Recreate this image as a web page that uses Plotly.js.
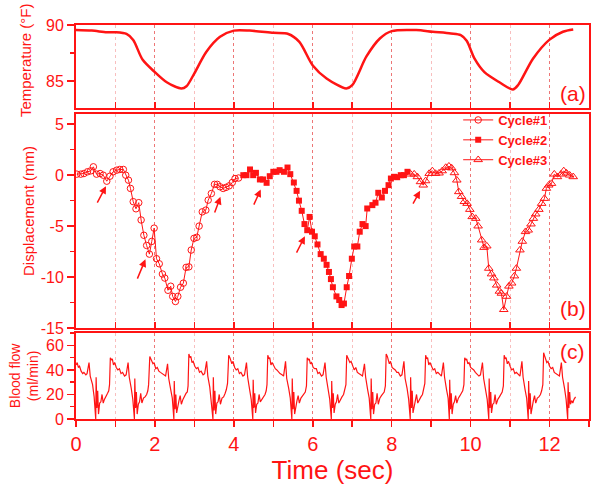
<!DOCTYPE html>
<html>
<head>
<meta charset="utf-8">
<script src="https://cdn.plot.ly/plotly-3.0.1.min.js"></script>
<style>html,body{margin:0;padding:0;background:#fff;}#chart{width:600px;height:488px;}</style>
</head>
<body>
<div id="chart"></div>
<script>
// ---------- DATA ----------
// (a) Temperature (°F) vs time (sec)
const tempTime = [0, 0.4, 0.78, 1.0, 1.28, 1.45, 1.69, 2.0, 2.3, 2.67, 2.8, 3.0, 3.3, 3.65, 4.0, 4.4, 5.0, 5.38, 5.66, 6.0, 6.35, 6.85, 7.0, 7.36, 7.7, 8.0, 8.62, 9.04, 9.5, 9.75, 9.9, 10.1, 10.35, 10.73, 11.07, 11.2, 11.58, 12.0, 12.34, 12.6];
const tempVal  = [89.55, 89.5, 89.35, 89.35, 89.2, 88.66, 86.9, 85.8, 84.9, 84.35, 84.55, 85.7, 87.6, 88.95, 89.5, 89.5, 89.3, 89.2, 88.5, 86.4, 85.24, 84.35, 84.64, 87.2, 88.8, 89.46, 89.55, 89.4, 89.25, 89.1, 88.6, 87.0, 85.8, 84.9, 84.26, 84.64, 87.0, 88.7, 89.4, 89.6];

// (b) Displacement (mm)
const cyc1Time = [0.02, 0.12, 0.2, 0.29, 0.37, 0.44, 0.52, 0.61, 0.69, 0.78, 0.86, 0.94, 1.03, 1.11, 1.2, 1.26, 1.33, 1.38, 1.45, 1.52, 1.59, 1.65, 1.72, 1.79, 1.86, 1.92, 1.98, 2.04, 2.11, 2.19, 2.25, 2.33, 2.4, 2.45, 2.52, 2.58, 2.65, 2.72, 2.79, 2.86, 2.92, 2.99, 3.06, 3.12, 3.2, 3.29, 3.35, 3.43, 3.51, 3.58, 3.65, 3.73, 3.8, 3.88, 3.96, 4.03, 4.12];
const cyc1Val  = [0.1, 0.1, 0.16, 0.33, 0.42, 0.82, 0.1, 0.16, 0, -0.59, -0.1, 0.33, 0.49, 0.56, 0.56, 0, -0.49, -1.3, -2.6, -3.3, -2.7, -4.4, -5.9, -6.9, -7.75, -6.5, -5.2, -8.2, -8.7, -9.7, -10.1, -11.3, -10.9, -11.9, -12.4, -11.9, -11.0, -10.6, -9.05, -9.0, -7.35, -6.2, -6.1, -5.0, -3.6, -3.43, -2.45, -1.8, -0.9, -0.9, -1.14, -1.3, -1.2, -1.05, -0.72, -0.33, -0.28];
const cyc2Time = [4.24, 4.32, 4.41, 4.49, 4.56, 4.66, 4.74, 4.83, 4.91, 5.0, 5.08, 5.16, 5.27, 5.36, 5.43, 5.52, 5.59, 5.65, 5.72, 5.79, 5.86, 5.92, 5.98, 6.05, 6.12, 6.2, 6.28, 6.35, 6.41, 6.46, 6.51, 6.6, 6.67, 6.73, 6.79, 6.86, 6.92, 6.99, 7.05, 7.13, 7.19, 7.26, 7.34, 7.38, 7.51, 7.59, 7.66, 7.75, 7.83, 7.92, 7.98, 8.06, 8.14, 8.23, 8.31, 8.4];
const cyc2Val  = [0, 0, 0.56, 0, 0.23, -0.42, -0.42, -0.75, -0.1, 0.33, 0.33, 0.49, 0.33, 0.75, 0.1, -0.72, -1.54, -2.5, -3.5, -4.8, -5.4, -4.1, -5.55, -6.0, -6.8, -7.75, -8.2, -8.8, -9.5, -10.2, -11.0, -11.9, -12.25, -12.75, -12.6, -11.0, -9.9, -8.2, -7.0, -7.0, -5.55, -4.8, -5.0, -3.27, -2.94, -2.7, -1.73, -2.19, -1.54, -0.98, -0.33, -0.16, -0.2, 0, 0, 0.33];
const cyc3Time = [8.48, 8.57, 8.65, 8.73, 8.8, 8.86, 8.95, 9.03, 9.11, 9.2, 9.28, 9.37, 9.45, 9.52, 9.59, 9.65, 9.7, 9.77, 9.84, 9.91, 9.98, 10.04, 10.13, 10.19, 10.28, 10.34, 10.41, 10.46, 10.53, 10.59, 10.66, 10.73, 10.78, 10.84, 10.91, 10.97, 11.04, 11.11, 11.16, 11.25, 11.31, 11.39, 11.46, 11.53, 11.59, 11.65, 11.73, 11.8, 11.87, 11.92, 11.98, 12.05, 12.12, 12.2, 12.29, 12.36, 12.43, 12.51, 12.6];
const cyc3Val  = [0.1, 0.1, -0.16, -0.65, -0.98, -0.56, 0.16, 0.42, 0.16, 0.2, 0.42, 0.75, 0.88, 0.7, 0.23, -0.49, -1.63, -2.1, -2.6, -2.78, -3.37, -4.08, -4.25, -5.0, -6.37, -7.1, -6.96, -9.15, -9.7, -10.1, -10.8, -11.4, -11.6, -13.2, -11.9, -10.9, -10.6, -9.9, -9.15, -7.35, -6.5, -5.55, -5.4, -4.8, -4.25, -3.82, -3.37, -2.78, -2.29, -1.3, -0.98, -0.82, 0.1, -0.16, 0.1, 0.42, 0.2, 0, -0.16];
const seriesNames = ['Cycle#1', 'Cycle#2', 'Cycle#3'];
// arrows in panel (b): [t, displacement] of tail and head
const arrowTail = [[0.52, -2.84], [1.54, -10.3], [3.5, -3.82], [4.49, -3.04], [5.57, -7.75], [8.52, -2.94]];
const arrowHead = [[0.76, -1.08], [1.76, -8.26], [3.66, -2.13], [4.68, -1.4], [5.8, -6.0], [8.72, -1.54]];

// (c) Blood flow (ml/min)
const flowTime = [
 0, 0.03, 0.06, 0.09, 0.13, 0.17, 0.20, 0.25, 0.28, 0.33, 0.36, 0.42, 0.46, 0.50, 0.51, 0.53, 0.55, 0.57, 0.60, 0.63, 0.66, 0.69, 0.72, 0.76, 0.80, 0.83, 0.85,
 0.87, 0.90, 0.92, 0.95, 0.98, 1.02, 1.06, 1.10, 1.14, 1.18, 1.23, 1.27, 1.32, 1.35, 1.40, 1.44, 1.48, 1.49, 1.51, 1.53, 1.55, 1.58, 1.61, 1.64, 1.67, 1.71, 1.75, 1.79, 1.82, 1.84,
 1.87, 1.90, 1.92, 1.95, 1.98, 2.02, 2.06, 2.10, 2.14, 2.18, 2.23, 2.27, 2.32, 2.35, 2.40, 2.44, 2.48, 2.49, 2.51, 2.53, 2.55, 2.58, 2.61, 2.64, 2.67, 2.71, 2.75, 2.79, 2.82, 2.84,
 2.86, 2.89, 2.91, 2.94, 2.97, 3.01, 3.05, 3.09, 3.13, 3.17, 3.22, 3.26, 3.31, 3.34, 3.39, 3.43, 3.47, 3.48, 3.50, 3.52, 3.54, 3.57, 3.60, 3.63, 3.66, 3.70, 3.74, 3.78, 3.81, 3.84,
 3.87, 3.90, 3.92, 3.95, 3.98, 4.02, 4.06, 4.10, 4.14, 4.18, 4.23, 4.27, 4.32, 4.35, 4.40, 4.44, 4.48, 4.49, 4.51, 4.53, 4.55, 4.58, 4.61, 4.64, 4.67, 4.71, 4.75, 4.79, 4.82, 4.84,
 4.86, 4.89, 4.91, 4.94, 4.97, 5.01, 5.05, 5.09, 5.13, 5.17, 5.22, 5.26, 5.31, 5.34, 5.39, 5.43, 5.47, 5.48, 5.50, 5.52, 5.54, 5.57, 5.60, 5.63, 5.66, 5.70, 5.74, 5.78, 5.81, 5.84,
 5.86, 5.89, 5.91, 5.94, 5.97, 6.01, 6.05, 6.09, 6.13, 6.17, 6.22, 6.26, 6.31, 6.34, 6.39, 6.43, 6.47, 6.48, 6.50, 6.52, 6.54, 6.57, 6.60, 6.63, 6.66, 6.70, 6.74, 6.78, 6.81, 6.84,
 6.86, 6.89, 6.91, 6.94, 6.97, 7.01, 7.05, 7.09, 7.13, 7.17, 7.22, 7.26, 7.31, 7.34, 7.39, 7.43, 7.47, 7.48, 7.50, 7.52, 7.54, 7.57, 7.60, 7.63, 7.66, 7.70, 7.74, 7.78, 7.81, 7.84,
 7.86, 7.89, 7.91, 7.94, 7.97, 8.01, 8.05, 8.09, 8.13, 8.17, 8.22, 8.26, 8.31, 8.34, 8.39, 8.43, 8.47, 8.48, 8.50, 8.52, 8.54, 8.57, 8.60, 8.63, 8.66, 8.70, 8.74, 8.78, 8.81, 8.84,
 8.86, 8.89, 8.91, 8.94, 8.97, 9.01, 9.05, 9.09, 9.13, 9.17, 9.22, 9.26, 9.31, 9.34, 9.39, 9.43, 9.46, 9.47, 9.49, 9.51, 9.53, 9.56, 9.59, 9.62, 9.65, 9.69, 9.73, 9.77, 9.80, 9.83,
 9.85, 9.88, 9.90, 9.93, 9.96, 10.00, 10.04, 10.08, 10.12, 10.16, 10.21, 10.25, 10.30, 10.33, 10.38, 10.42, 10.46, 10.47, 10.49, 10.51, 10.53, 10.56, 10.59, 10.62, 10.65, 10.69, 10.73, 10.77, 10.80, 10.83,
 10.85, 10.88, 10.90, 10.93, 10.96, 11.00, 11.04, 11.08, 11.12, 11.16, 11.21, 11.25, 11.30, 11.33, 11.38, 11.42, 11.46, 11.47, 11.49, 11.51, 11.53, 11.56, 11.59, 11.62, 11.65, 11.69, 11.73, 11.77, 11.80, 11.83,
 11.85, 11.88, 11.90, 11.93, 11.96, 12.00, 12.04, 12.08, 12.12, 12.16, 12.21, 12.25, 12.30, 12.33, 12.38, 12.42, 12.46, 12.47, 12.49, 12.51, 12.53, 12.56, 12.59, 12.62, 12.66
];
const flowVal = [
 44, 46, 42, 43, 39, 37, 38, 36, 37, 46, 35, 28, 18, 0, 34, 9, 23, 4, 13, 14, 20, 13, 16, 18, 21, 23, 28,
 50, 48, 49, 44, 46, 42, 40, 41, 37, 38, 35, 36, 46, 34, 25, 16, 0, 33, 9, 22, 4, 12, 14, 21, 13, 17, 18, 20, 23, 28,
 51, 49, 47, 45, 46, 41, 42, 39, 38, 37, 36, 35, 45, 33, 24, 17, 0, 31, 8, 20, 5, 11, 15, 19, 12, 16, 19, 21, 22, 27,
 53, 50, 51, 46, 47, 43, 41, 42, 38, 39, 36, 37, 47, 35, 26, 15, 0, 34, 7, 23, 4, 13, 14, 20, 12, 17, 18, 21, 24, 29,
 52, 50, 48, 45, 47, 42, 40, 41, 37, 38, 35, 36, 46, 34, 24, 16, 0, 32, 9, 21, 5, 12, 13, 20, 14, 16, 18, 20, 23, 28,
 52, 49, 50, 44, 46, 43, 41, 40, 38, 37, 36, 35, 47, 33, 25, 17, 0, 33, 8, 22, 4, 11, 15, 19, 13, 17, 19, 21, 22, 27,
 50, 48, 49, 45, 46, 42, 41, 41, 37, 38, 35, 36, 46, 34, 25, 16, 0, 31, 9, 21, 5, 12, 14, 20, 13, 16, 18, 20, 23, 28,
 52, 50, 48, 46, 47, 43, 40, 42, 38, 37, 36, 35, 45, 34, 24, 17, 0, 33, 8, 22, 4, 12, 13, 21, 12, 17, 19, 21, 22, 27,
 53, 51, 49, 45, 47, 42, 41, 40, 38, 38, 35, 36, 47, 33, 25, 16, 0, 34, 9, 23, 5, 11, 15, 20, 13, 16, 18, 20, 24, 29,
 52, 49, 50, 44, 46, 43, 40, 41, 37, 38, 36, 35, 46, 34, 24, 17, 0, 32, 8, 21, 4, 12, 14, 19, 13, 17, 19, 21, 23, 28,
 50, 48, 49, 45, 46, 42, 41, 40, 38, 37, 35, 36, 46, 33, 25, 16, 0, 33, 9, 22, 5, 12, 13, 20, 12, 16, 18, 21, 22, 27,
 52, 49, 50, 45, 47, 43, 40, 41, 37, 38, 36, 35, 47, 34, 24, 17, 0, 31, 8, 21, 4, 11, 15, 19, 13, 17, 18, 20, 23, 28,
 54, 51, 49, 46, 47, 43, 41, 42, 38, 37, 36, 35, 46, 34, 25, 16, 0, 30, 9, 22, 12, 15, 13, 16, 18
];

// tick labels
const xTickVals = [0, 2, 4, 6, 8, 10, 12];
const xTickText = ['0', '2', '4', '6', '8', '10', '12'];
const tTickVals = [85, 90];
const tTickText = ['85', '90'];
const dTickVals = [5, 0, -5, -10, -15];
const dTickText = ['5', '0', '-5', '-10', '-15'];
const fTickVals = [0, 20, 40, 60];
const fTickText = ['0', '20', '40', '60'];
const yTitles = ['Temperature (°F)', 'Displacement (mm)', 'Blood flow<br>(ml/min)'];
const xTitle = 'Time (sec)';
const panelLabels = ['(a)', '(b)', '(c)'];

// ---------- STYLE ----------
const RED = '#ff1414';
const FONT = 'Liberation Sans, Arial, Helvetica, sans-serif';

const traces = [
  {x: tempTime, y: tempVal, xaxis: 'x', yaxis: 'y', mode: 'lines', type: 'scatter',
   line: {color: RED, width: 2.5, shape: 'spline', smoothing: 0.8}, showlegend: false, hoverinfo: 'skip'},
  {x: cyc1Time, y: cyc1Val, xaxis: 'x2', yaxis: 'y2', mode: 'lines+markers', type: 'scatter', name: seriesNames[0],
   line: {color: RED, width: 1}, marker: {symbol: 'circle-open', size: 6.5, color: RED, line: {width: 1, color: RED}}},
  {x: cyc2Time, y: cyc2Val, xaxis: 'x2', yaxis: 'y2', mode: 'lines+markers', type: 'scatter', name: seriesNames[1],
   line: {color: RED, width: 1}, marker: {symbol: 'square', size: 6, color: RED}},
  {x: cyc3Time, y: cyc3Val, xaxis: 'x2', yaxis: 'y2', mode: 'lines+markers', type: 'scatter', name: seriesNames[2],
   line: {color: RED, width: 1}, marker: {symbol: 'triangle-up-open', size: 7.5, color: RED, line: {width: 1, color: RED}}},
  {x: flowTime, y: flowVal, xaxis: 'x3', yaxis: 'y3', mode: 'lines', type: 'scatter',
   line: {color: RED, width: 1.2}, showlegend: false, hoverinfo: 'skip'}
];

function xAxis(anchor, labels) {
  return {
    anchor: anchor, range: [0, 13], showline: true, linewidth: 2, linecolor: RED, mirror: true,
    zeroline: false, showgrid: true, gridcolor: 'rgba(230,70,70,0.6)', griddash: 'dot', gridwidth: 1,
    tickmode: 'array', tickvals: xTickVals, ticktext: xTickText,
    ticks: labels ? 'outside' : 'inside', ticklen: 6, tickwidth: 1.5, tickcolor: RED,
    showticklabels: labels, tickfont: {size: 20, color: RED, family: FONT},
    minor: {dtick: 1, tick0: 0, ticks: labels ? 'outside' : 'inside', ticklen: 6, tickwidth: 1.5, tickcolor: RED,
            showgrid: true, gridcolor: 'rgba(240,110,110,0.45)', griddash: 'dot', gridwidth: 1}
  };
}
function yAxis(domain, range, vals, text, minorDt) {
  return {
    domain: domain, range: range, showline: true, linewidth: 2, linecolor: RED, mirror: true,
    zeroline: false, showgrid: false,
    tickmode: 'array', tickvals: vals, ticktext: text,
    ticks: 'outside', ticklen: 7, tickwidth: 1.5, tickcolor: RED,
    tickfont: {size: 16, color: RED, family: FONT},
    minor: {dtick: minorDt, tick0: 0, ticks: 'outside', ticklen: 4, tickwidth: 1.5, tickcolor: RED}
  };
}

const textAnn = (text, x, y, size, angle) => ({
  text: text, xref: 'paper', yref: 'paper', x: x, y: y, xanchor: 'center', yanchor: 'middle',
  showarrow: false, textangle: angle, font: {size: size, color: RED, family: FONT}
});

const layout = {
  width: 600, height: 488,
  margin: {l: 76, r: 11, t: 25, b: 69},
  paper_bgcolor: '#ffffff', plot_bgcolor: '#ffffff',
  font: {family: FONT, color: RED},
  showlegend: true,
  legend: {x: 0.745, y: 0.797, xanchor: 'left', yanchor: 'top', bgcolor: 'rgba(0,0,0,0)',
           font: {size: 13, color: RED, family: FONT, weight: 'bold'},
           itemwidth: 30, tracegroupgap: 0},
  xaxis: xAxis('y', false),
  xaxis2: xAxis('y2', false),
  xaxis3: Object.assign(xAxis('y3', true), {title: {text: xTitle, font: {size: 26, color: RED, family: FONT}, standoff: 4}}),
  yaxis: yAxis([0.789, 1], [82.6, 90], tTickVals, tTickText, 2.5),
  yaxis2: yAxis([0.231, 0.774], [-15, 6], dTickVals, dTickText, 2.5),
  yaxis3: yAxis([0, 0.218], [0, 70], fTickVals, fTickText, 10),
  annotations: [
    textAnn(yTitles[0], -0.0994, 0.911, 15, -90),
    textAnn(yTitles[1], -0.0916, 0.528, 15, -90),
    textAnn(yTitles[2], -0.1023, 0.110, 14, -90),
    textAnn(panelLabels[0], 0.968, 0.826, 21, 0),
    textAnn(panelLabels[1], 0.968, 0.2805, 21, 0),
    textAnn(panelLabels[2], 0.968, 0.171, 21, 0)
  ].concat(arrowHead.map((h, i) => ({
    xref: 'x2', yref: 'y2', axref: 'x2', ayref: 'y2', x: h[0], y: h[1], ax: arrowTail[i][0], ay: arrowTail[i][1],
    text: '', showarrow: true, arrowhead: 2, arrowsize: 1, arrowwidth: 1.5, arrowcolor: RED
  })))
};

Plotly.newPlot('chart', traces, layout, {displayModeBar: false, staticPlot: true});
</script>
</body>
</html>
